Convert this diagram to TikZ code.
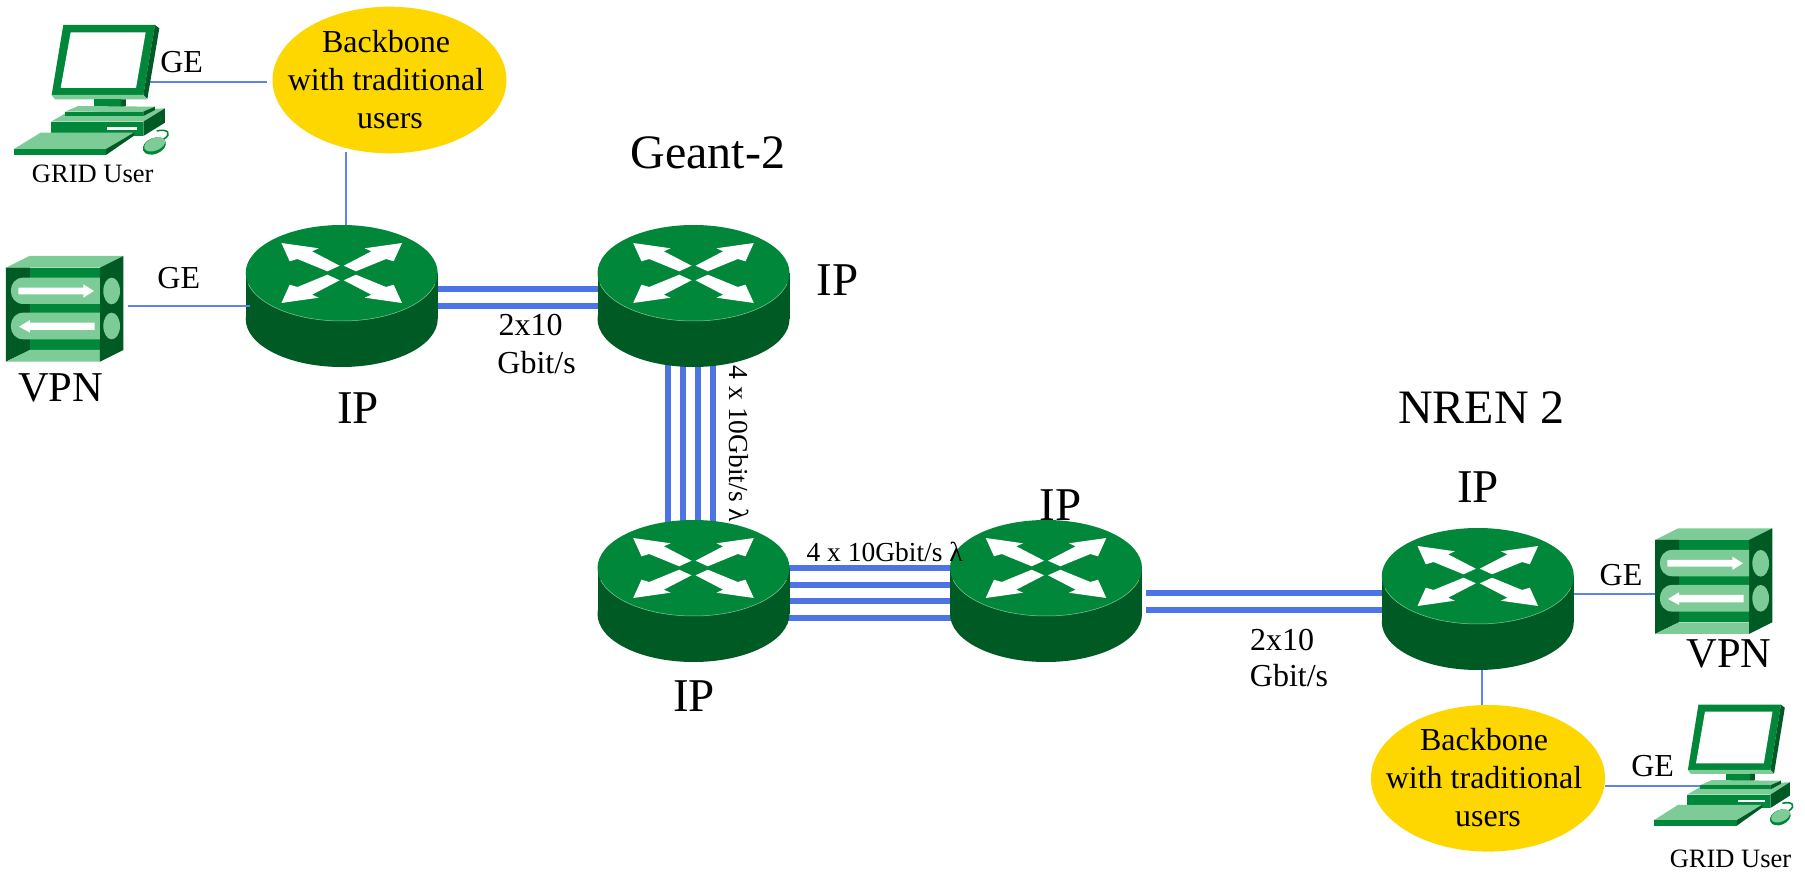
\documentclass[tikz,border=0pt]{standalone}
\usepackage{fontspec}
\usetikzlibrary{shapes.geometric}
\setmainfont{Liberation Serif}
\definecolor{cgreen}{HTML}{00873A}
\definecolor{cdark}{HTML}{005A24}
\definecolor{clight}{HTML}{7DCB96}
\definecolor{cyell}{HTML}{FFD700}
\definecolor{cblue}{HTML}{4D74E6}
\definecolor{cthin}{HTML}{5F83EE}
\newcommand{\fs}[1]{\fontsize{#1}{#1}\selectfont}
\tikzset{
  x=1pt,y=-1pt,
  routerbox/.style={rectangle,inner sep=0pt,outer sep=0pt,minimum width=192pt,minimum height=142pt},
  vpnbox/.style={rectangle,inner sep=0pt,outer sep=0pt,minimum width=118pt,minimum height=106pt},
  pcbox/.style={rectangle,inner sep=0pt,outer sep=0pt,minimum height=116pt},
  blob/.style={ellipse,fill=cyell,inner sep=0pt,outer sep=0pt,minimum width=234pt,minimum height=146.6pt},
  thick link/.style={cblue,line width=6pt},
  thin link/.style={cthin,line width=1.8pt},
  txt/.style={inner sep=0pt,outer sep=0pt,text=black,anchor=base},
  big/.style={txt,font=\fs{47}},
  mid/.style={txt,font=\fs{42.5}},
  norm/.style={txt,font=\fs{32}},
  small/.style={txt,font=\fs{26.5}},
  tiny/.style={txt,font=\fs{27.5}},
  arrowx/.pic={
    \fill[white] (-60.3,-30) -- (-23,-24.7) -- (-29.7,-21.7) -- (-2,-7.3) -- (-14.3,-1.7) -- (-44.3,-14) -- (-52,-11.7) -- cycle;
  },
  routerpic/.pic={
    \fill[cdark] (0,46) ellipse [x radius=96,y radius=48];
    \fill[cdark] (-96,0) rectangle (96,46);
    \fill[cgreen] (0,0) ellipse [x radius=96,y radius=48];
    \begin{scope}
      \clip (-96,12) rectangle (96,50);
      \draw[clight,line width=.5pt] (0,0) ellipse [x radius=96,y radius=48];
    \end{scope}
    \pic[xscale=1,yscale=1] {arrowx};
    \pic[xscale=-1,yscale=1] {arrowx};
    \pic[xscale=1,yscale=-1] {arrowx};
    \pic[xscale=-1,yscale=-1] {arrowx};
  },
  vpnpic/.pic={
    \fill[cgreen] (90,803) rectangle (300,1050);
    \fill[clight] (18,803) -- (88,768) -- (370,768) -- (300,803) -- cycle;
    \fill[cdark] (18,803) -- (90,803) -- (90,1050) -- (18,1085) -- cycle;
    \fill[clight] (18,1085) -- (90,1050) -- (300,1050) -- (300,1085) -- cycle;
    \fill[cdark] (300,803) -- (370,768) -- (370,1050) -- (300,1085) -- cycle;
    \fill[clight] (300,833) -- (70,833) .. controls (20,833) and (20,912) .. (70,912) -- (300,912) -- cycle;
    \fill[clight] (300,938) -- (70,938) .. controls (20,938) and (20,1018) .. (70,1018) -- (300,1018) -- cycle;
    \fill[clight] (335,873) ellipse [x radius=25,y radius=40];
    \fill[clight] (335,978) ellipse [x radius=25,y radius=40];
    \fill[white] (55,863) -- (250,863) -- (250,853) -- (282,873) -- (250,893) -- (250,883) -- (55,883) -- cycle;
    \fill[white] (284,968) -- (90,968) -- (90,960) -- (57,980) -- (90,998) -- (90,990) -- (284,990) -- cycle;
  },
  pcpic/.pic={
    \fill[cgreen] (190,75) -- (465,75) -- (430,285) -- (155,285) -- cycle;
    \fill[white] (212,97) -- (437,97) -- (408,264) -- (182,264) -- cycle;
    \fill[cdark] (465,75) -- (478,85) -- (442,297) -- (430,285) -- cycle;
    \fill[clight] (155,285) -- (430,285) -- (442,298) -- (165,298) -- cycle;
    \fill[cgreen] (282,298) rectangle (362,326);
    \fill[cdark] (362,298) -- (378,298) -- (378,318) -- (362,326) -- cycle;
    \fill[clight] (153,365) -- (200,338) -- (495,325) -- (430,365) -- cycle;
    \fill[cgreen] (153,365) -- (430,365) -- (430,408) -- (153,408) -- cycle;
    \fill[cdark] (430,365) -- (495,325) -- (495,368) -- (430,408) -- cycle;
    \fill[clight] (195,335) -- (235,318) -- (465,320) -- (430,335) -- cycle;
    \fill[cgreen] (195,335) -- (430,335) -- (430,348) -- (195,348) -- cycle;
    \fill[cdark] (430,335) -- (465,320) -- (465,330) -- (430,348) -- cycle;
    \fill[white] (322,381) rectangle (411,389);
    \fill[clight] (42,447) -- (122,398) -- (402,398) -- (318,447) -- cycle;
    \fill[cgreen] (42,447) -- (318,447) -- (318,465) -- (42,465) -- cycle;
    \fill[cdark] (318,447) -- (402,398) -- (402,407) -- (318,465) -- cycle;
    \draw[cgreen,line width=1.6pt] (470,393) .. controls (500,385) and (520,400) .. (490,418);
    \fill[cgreen,rotate around={22:(463,438)}] (463,438) ellipse [x radius=36,y radius=24];
    \fill[clight,rotate around={22:(464,433)}] (464,433) ellipse [x radius=33,y radius=19];
  }
}
\begin{document}
\begin{tikzpicture}
\useasboundingbox (0,0) rectangle (1805,874);
\fill[white] (0,0) rectangle (1805,874);
% invisible anchors
\node[routerbox] (r1) at (341.7,296) {};
\node[routerbox] (r2) at (693.5,296) {};
\node[routerbox] (r3) at (693.5,591) {};
\node[routerbox] (r4) at (1046,591) {};
\node[routerbox] (r5) at (1477.8,599) {};
\node[vpnbox] (v1) at (65,306) {};
\node[vpnbox] (v2) at (1714,594.3) {};
\node[pcbox,minimum width=136pt] (c1) at (82,82) {};
\node[pcbox,minimum width=90pt] (c2) at (1745,786) {};
\node[blob] (e1) at (389.5,80) {};
\node[blob] (e2) at (1488,778.3) {};
% thick links
\draw[thick link] ([yshift=7pt]r1.east) -- ([yshift=7pt]r2.west);
\draw[thick link] ([yshift=-10pt]r1.east) -- ([yshift=-10pt]r2.west);
\foreach \dx in {-25.2,-10.5,4.8,19.8}
  \draw[thick link,shorten >=-6pt,shorten <=-6pt] ([xshift=\dx pt]r2.south) -- ([xshift=\dx pt]r3.north);
\foreach \dy in {23,6,-10.3,-26.7}
  \draw[thick link,shorten >=-6pt,shorten <=-6pt] ([yshift=\dy pt]r3.east) -- ([yshift=\dy pt]r4.west);
\draw[thick link,shorten <=4.4pt] ([yshift=5.7pt]r5.west -| r4.east) -- ([yshift=5.7pt]r5.west);
\draw[thick link,shorten <=4.4pt] ([yshift=-11pt]r5.west -| r4.east) -- ([yshift=-11pt]r5.west);
% thin links
\draw[thin link,shorten >=5.8pt] (c1.east) -- (e1.west |- c1.east);
\draw[thin link,shorten <=-1pt] ([xshift=4pt]r1.north |- e1.south) -- ([xshift=4pt]r1.north);
\draw[thin link] ([xshift=3.9pt]r5.south) -- ([xshift=3.9pt]r5.south |- e2.north);
\draw[thin link] (r5.east |- v2) -- (v2.west);
\draw[thin link] (e2.east |- c2) -- (c2.west);
% icons
\foreach \n in {r1,r2,r3,r4,r5} \pic at ([yshift=23pt]\n.center) {routerpic};
\draw[thin link,shorten <=4.3pt,shorten >=-4pt] (v1.east) -- (r1.west |- v1);
\pic[scale=1/3] at (0,0) {vpnpic};
\pic[scale=1/3] at (1649,272.3) {vpnpic};
\pic[scale=1/3] at (0,0) {pcpic};
\pic[xscale=.3,yscale=.3103] at (1641.4,681.4) {pcpic};
% texts
\node[norm] (e1a) at (386,52.7) {Backbone};
\node[norm] (e1b) at (386,90.7) {with traditional};
\node[norm] (e1c) at (390,128.3) {users};
\node[norm] (e2a) at (1484,750.7) {Backbone};
\node[norm] (e2b) at (1484,788.3) {with traditional};
\node[norm] (e2c) at (1488,826.7) {users};
\node[norm] (g1) at (181.7,72.7) {GE};
\node[norm] (g2) at (178.8,288.3) {GE};
\node[norm] (g3) at (1621,585) {GE};
\node[norm] (g4) at (1652.7,776) {GE};
\node[small] (u1) at (92.7,182.7) {GRID User};
\node[small] (u2) at (1730.5,867.7) {GRID User};
\node[mid] (p1) at (60.8,401.7) {VPN};
\node[mid] (p2) at (1729,667.7) {VPN};
\node[big] (i1) at (358,423.6) {IP};
\node[big] (i2) at (837.4,296) {IP};
\node[big] (i3) at (694,711.7) {IP};
\node[big] (i4) at (1060.3,520) {IP};
\node[big] (i5) at (1478,502.7) {IP};
\node[big,font=\fs{48}] (t1) at (708,169) {Geant-2};
\node[big,font=\fs{48}] (t2) at (1481.5,423.6) {NREN 2};
\node[norm] (a1) at (530.6,336) {2x10};
\node[norm] (a2) at (536.6,374) {Gbit/s};
\node[norm] (a3) at (1282,650) {2x10};
\node[norm] (a4) at (1289,686) {Gbit/s};
\node[tiny] (l1) at (884.6,561) {4 x 10Gbit/s λ};
\node[tiny,rotate=-90] (l2) at (729.5,444) {4 x 10Gbit/s λ};
\end{tikzpicture}
\end{document}
